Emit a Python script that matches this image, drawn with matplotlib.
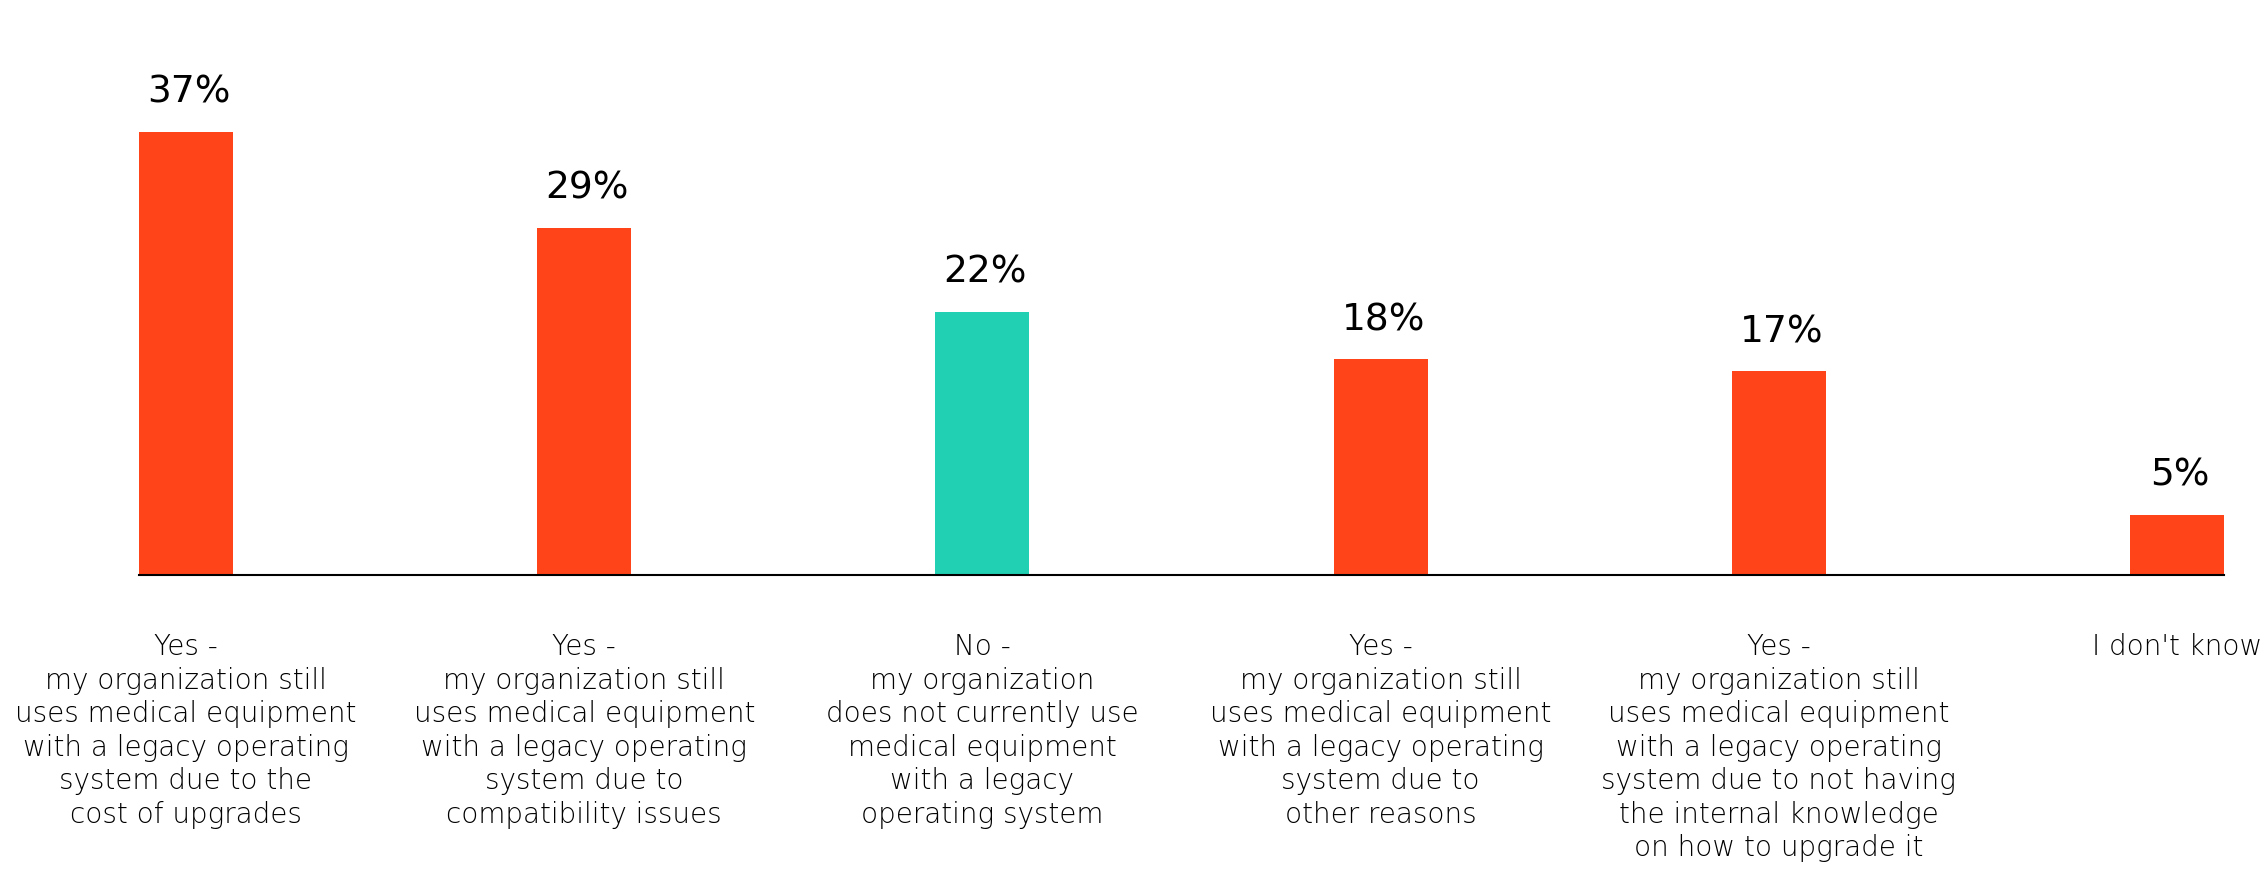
import matplotlib
matplotlib.use('Agg')
import matplotlib.pyplot as plt

categories = [
    'Yes -\nmy organization still\nuses medical equipment\nwith a legacy operating\nsystem due to the\ncost of upgrades',
    'Yes -\nmy organization still\nuses medical equipment\nwith a legacy operating\nsystem due to\ncompatibility issues',
    'No -\nmy organization\ndoes not currently use\nmedical equipment\nwith a legacy\noperating system',
    'Yes -\nmy organization still\nuses medical equipment\nwith a legacy operating\nsystem due to\nother reasons',
    'Yes -\nmy organization still\nuses medical equipment\nwith a legacy operating\nsystem due to not having\nthe internal knowledge\non how to upgrade it',
    "I don't know",
]
values = [37, 29, 22, 18, 17, 5]
colors = ['#FF4419', '#FF4419', '#21D0B2', '#FF4419', '#FF4419', '#FF4419']

fig = plt.figure(figsize=(22.66, 8.91), dpi=100)
ax = fig.add_axes([139 / 2266, 1 - 575 / 891, (2224 - 139) / 2266, 479 / 891])

w = 0.236
x = range(len(values))
bars = ax.bar(x, values, width=w, color=colors)
ax.set_xlim(-w / 2, len(values) - 1 + w / 2)
ax.set_ylim(0, 40)

# percentage labels above the bars
for b, v in zip(bars, values):
    ax.annotate(f'{v}%', (b.get_x() + b.get_width() / 2, v),
                xytext=(2, 21), textcoords='offset points',
                ha='center', va='baseline', fontsize=27, color='black',
                family='DejaVu Sans')

ax.set_xticks(list(x))
ax.set_xticklabels(categories, fontsize=20, color='black', family='DejaVu Sans',
                   fontweight='light', linespacing=1.25)
ax.tick_params(axis='x', length=0, pad=42)
ax.set_yticks([])
for s in ['top', 'right', 'left']:
    ax.spines[s].set_visible(False)
ax.spines['bottom'].set_linewidth(1.5)
ax.spines['bottom'].set_color('black')

fig.savefig('out.png', dpi=100)
